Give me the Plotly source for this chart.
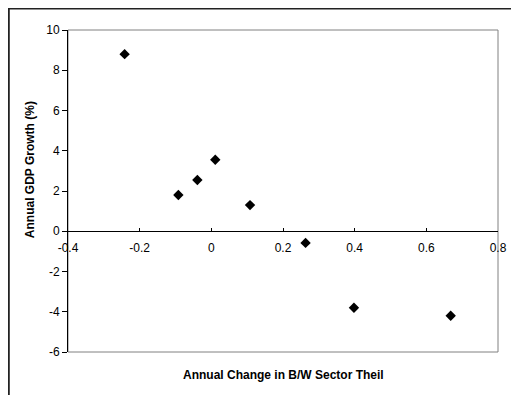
import plotly.graph_objects as go

# Data
theil_change = [-0.242, -0.092, -0.039, 0.011, 0.108, 0.263, 0.398, 0.668]
gdp_growth = [8.8, 1.8, 2.55, 3.55, 1.3, -0.58, -3.8, -4.2]

x_ticks = [-0.4, -0.2, 0, 0.2, 0.4, 0.6, 0.8]
x_ticklabels = ["-0.4", "-0.2", "0", "0.2", "0.4", "0.6", "0.8"]
y_ticks = [-6, -4, -2, 0, 2, 4, 6, 8, 10]
y_ticklabels = ["-6", "-4", "-2", "0", "2", "4", "6", "8", "10"]

# page has an 8px body margin; work in page pixels
OFF = 8
PW, PH = 519, 395
W, H = PW - OFF, PH - OFF
L, R, T, B = 68 - OFF, 19, 30 - OFF, 43
pw, ph = W - L - R, H - T - B

def px_x(p):  # page x -> paper
    return (p - OFF - L) / pw

def px_y(p):  # page y -> paper
    return (H - B - (p - OFF)) / ph

font = dict(family="Liberation Sans, Arial, sans-serif", size=12, color="black")

fig = go.Figure()
fig.add_trace(go.Scatter(
    x=theil_change, y=gdp_growth, mode="markers",
    marker=dict(symbol="diamond", size=8, color="black"),
    showlegend=False, cliponaxis=False,
))

fig.update_layout(
    width=W, height=H,
    margin=dict(l=L, r=R, t=T, b=B),
    paper_bgcolor="white", plot_bgcolor="white",
    font=font,
    xaxis=dict(
        range=[-0.4, 0.8], tickvals=x_ticks, ticktext=x_ticklabels,
        showgrid=False, zeroline=False,
        showline=True, linecolor="black", linewidth=1,
        ticks="inside", ticklen=3, tickcolor="black",
        anchor="free", position=6 / 16,
        ticklabelstandoff=5,
        tickfont=font,
    ),
    yaxis=dict(
        range=[-6, 10], tickvals=y_ticks, ticktext=y_ticklabels,
        showgrid=False, zeroline=False,
        showline=True, linecolor="black", linewidth=1,
        ticks="outside", ticklen=5, tickcolor="black",
        tickfont=font,
    ),
    shapes=[
        dict(type="rect", xref="paper", yref="paper", x0=0, y0=0, x1=1, y1=1,
             line=dict(color="#808080", width=1), layer="below"),
        dict(type="line", xref="paper", yref="paper",
             x0=px_x(8), y0=px_y(8), x1=px_x(PW + 10), y1=px_y(8),
             line=dict(color="#222222", width=3)),
        dict(type="line", xref="paper", yref="paper",
             x0=px_x(8), y0=px_y(8), x1=px_x(8), y1=px_y(PH + 10),
             line=dict(color="#222222", width=3)),
    ],
    annotations=[
        dict(text="<b>Annual Change in B/W Sector Theil</b>", xref="paper", yref="paper",
             x=px_x(285), y=px_y(375), showarrow=False, font=font,
             xanchor="center", yanchor="middle"),
        dict(text="<b>Annual GDP Growth (%)</b>", xref="paper", yref="paper",
             x=px_x(30), y=px_y(170), showarrow=False, font=font, textangle=-90,
             xanchor="center", yanchor="middle"),
    ],
)

fig.write_html("out.html")
